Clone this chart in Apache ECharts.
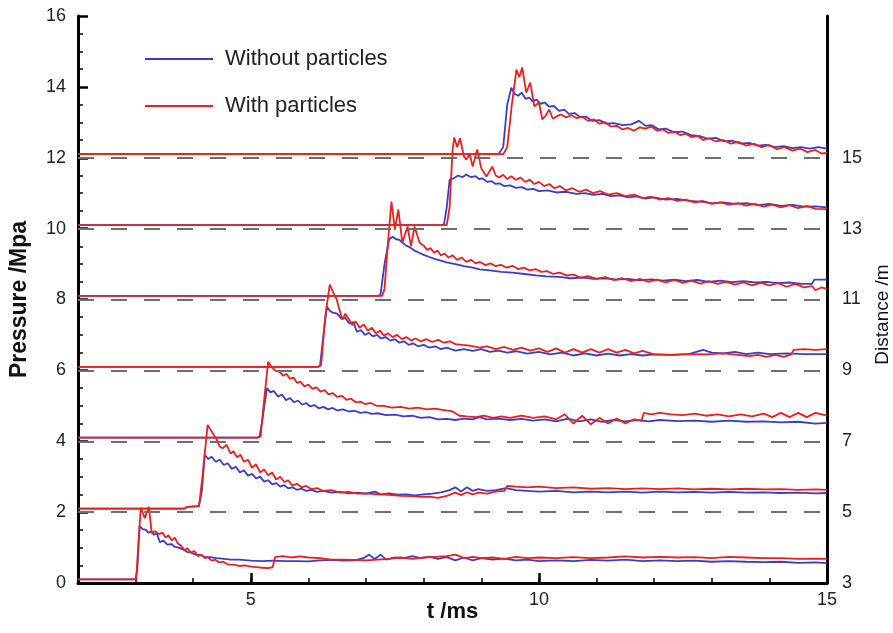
<!DOCTYPE html>
<html><head><meta charset="utf-8">
<script src="https://cdn.jsdelivr.net/npm/echarts@6/dist/echarts.min.js"></script>
<style>html,body{margin:0;padding:0;background:#fff}#c{width:893px;height:633px}</style>
</head><body><div id="c"></div>
<script>
// x tick labels shown, dashed reference levels, right axis labels
const xLabels = [5, 10, 15];
const dashLevels = [2, 4, 6, 8, 10, 12];
const distanceLabels = [3, 5, 7, 9, 11, 13, 15];
const seriesNames = ['Without particles', 'With particles'];

// Sensor at 3 m
const without3 = [[2,0.1],[3.0,0.1],[3.03,0.4],[3.07,1.61],[3.12,1.52],[3.18,1.5],[3.22,1.42],[3.27,1.45],[3.32,1.36],[3.37,1.4],[3.42,1.15],[3.48,1.2],[3.55,1.08],[3.62,1.1],[3.68,1.02],[3.75,1.0],[3.82,0.95],[3.89,0.88],[3.96,0.86],[4.04,0.8],[4.12,0.79],[4.2,0.74],[4.3,0.73],[4.4,0.7],[4.5,0.69],[4.65,0.66],[4.8,0.66],[5.0,0.63],[5.2,0.62],[5.4,0.63],[5.6,0.62],[5.8,0.62],[6.0,0.61],[6.2,0.64],[6.4,0.65],[6.6,0.63],[6.8,0.64],[6.95,0.7],[7.05,0.8],[7.15,0.68],[7.25,0.8],[7.35,0.66],[7.5,0.72],[7.65,0.7],[7.8,0.76],[7.95,0.7],[8.1,0.74],[8.25,0.68],[8.4,0.73],[8.55,0.64],[8.7,0.72],[8.85,0.64],[9.0,0.7],[9.2,0.66],[9.4,0.69],[9.6,0.64],[9.8,0.66],[10.0,0.62],[10.3,0.64],[10.6,0.62],[10.9,0.65],[11.2,0.63],[11.5,0.66],[11.8,0.62],[12.1,0.64],[12.4,0.62],[12.7,0.63],[13.0,0.6],[13.3,0.62],[13.6,0.6],[13.9,0.59],[14.2,0.6],[14.5,0.57],[14.8,0.58],[15,0.56]];
const with3 = [[2,0.1],[3.01,0.1],[3.05,1.2],[3.09,2.12],[3.16,1.83],[3.23,2.15],[3.28,1.41],[3.34,1.46],[3.4,1.38],[3.47,1.42],[3.52,1.28],[3.57,1.35],[3.63,1.2],[3.68,1.28],[3.73,1.12],[3.79,1.05],[3.85,0.92],[3.9,0.98],[3.96,0.86],[4.02,0.9],[4.08,0.76],[4.14,0.8],[4.2,0.7],[4.26,0.72],[4.32,0.63],[4.38,0.66],[4.45,0.58],[4.52,0.6],[4.6,0.52],[4.7,0.52],[4.8,0.48],[4.9,0.5],[5.0,0.46],[5.1,0.45],[5.2,0.43],[5.3,0.42],[5.38,0.45],[5.42,0.73],[5.55,0.76],[5.7,0.72],[5.85,0.75],[6.0,0.72],[6.2,0.7],[6.4,0.66],[6.6,0.66],[6.8,0.65],[7.0,0.64],[7.2,0.66],[7.4,0.68],[7.6,0.72],[7.8,0.68],[8.0,0.72],[8.2,0.74],[8.4,0.76],[8.55,0.8],[8.7,0.7],[8.85,0.74],[9.0,0.7],[9.2,0.72],[9.4,0.68],[9.6,0.74],[9.8,0.7],[10.0,0.72],[10.3,0.7],[10.6,0.73],[10.9,0.7],[11.2,0.72],[11.5,0.75],[11.8,0.72],[12.1,0.74],[12.4,0.72],[12.7,0.73],[13.0,0.7],[13.3,0.74],[13.6,0.72],[13.9,0.7],[14.2,0.7],[14.5,0.68],[14.8,0.69],[15,0.68]];

// Sensor at 5 m
const without5 = [[2,2.1],[3.85,2.1],[3.9,2.15],[4.1,2.17],[4.15,2.6],[4.2,3.62],[4.26,3.5],[4.32,3.56],[4.39,3.42],[4.46,3.48],[4.53,3.33],[4.6,3.38],[4.67,3.22],[4.74,3.28],[4.81,3.12],[4.88,3.18],[4.95,3.03],[5.02,3.08],[5.09,2.95],[5.16,3.0],[5.23,2.86],[5.3,2.9],[5.37,2.78],[5.44,2.82],[5.51,2.72],[5.58,2.76],[5.65,2.67],[5.72,2.7],[5.8,2.63],[5.88,2.66],[5.96,2.6],[6.05,2.63],[6.15,2.57],[6.25,2.6],[6.4,2.55],[6.55,2.57],[6.7,2.53],[6.85,2.55],[7.0,2.52],[7.15,2.58],[7.25,2.5],[7.4,2.53],[7.55,2.49],[7.7,2.5],[7.85,2.47],[8.0,2.5],[8.15,2.52],[8.3,2.56],[8.45,2.62],[8.55,2.7],[8.65,2.58],[8.75,2.7],[8.85,2.6],[8.95,2.65],[9.1,2.6],[9.25,2.62],[9.43,2.68],[9.6,2.62],[9.8,2.6],[10.0,2.58],[10.3,2.6],[10.6,2.56],[10.9,2.58],[11.2,2.56],[11.5,2.58],[11.8,2.55],[12.1,2.58],[12.4,2.56],[12.7,2.57],[13.0,2.55],[13.3,2.57],[13.6,2.55],[13.9,2.56],[14.2,2.54],[14.5,2.55],[14.8,2.53],[15,2.54]];
const with5 = [[2,2.1],[3.85,2.1],[3.9,2.15],[4.1,2.17],[4.16,3.0],[4.25,4.46],[4.33,4.25],[4.41,4.04],[4.46,3.85],[4.51,3.8],[4.58,3.9],[4.65,3.65],[4.7,3.72],[4.76,3.55],[4.82,3.62],[4.88,3.42],[4.95,3.48],[5.02,3.25],[5.09,3.35],[5.16,3.12],[5.23,3.2],[5.3,3.04],[5.37,3.12],[5.44,2.92],[5.51,3.0],[5.58,2.85],[5.65,2.9],[5.72,2.75],[5.8,2.8],[5.88,2.7],[5.96,2.74],[6.05,2.65],[6.15,2.68],[6.25,2.6],[6.4,2.62],[6.55,2.55],[6.7,2.57],[6.85,2.52],[7.0,2.53],[7.2,2.5],[7.4,2.49],[7.6,2.46],[7.8,2.45],[7.95,2.43],[8.1,2.44],[8.25,2.4],[8.4,2.46],[8.55,2.55],[8.65,2.48],[8.75,2.56],[8.85,2.5],[8.95,2.55],[9.1,2.52],[9.25,2.58],[9.4,2.6],[9.45,2.74],[9.6,2.72],[9.8,2.7],[10.0,2.72],[10.3,2.68],[10.6,2.7],[10.9,2.66],[11.2,2.68],[11.5,2.65],[11.8,2.67],[12.1,2.65],[12.4,2.67],[12.7,2.64],[13.0,2.66],[13.3,2.64],[13.6,2.66],[13.9,2.64],[14.2,2.65],[14.5,2.63],[14.8,2.64],[15,2.63]];

// Sensor at 7 m
const without7 = [[2,4.1],[5.1,4.1],[5.15,4.12],[5.2,4.6],[5.28,5.5],[5.34,5.38],[5.4,5.42],[5.47,5.26],[5.54,5.32],[5.61,5.16],[5.68,5.22],[5.75,5.1],[5.82,5.15],[5.89,5.03],[5.96,5.08],[6.03,4.98],[6.1,5.02],[6.18,4.93],[6.26,4.97],[6.34,4.9],[6.42,4.94],[6.5,4.87],[6.6,4.9],[6.7,4.84],[6.8,4.86],[6.9,4.8],[7.0,4.82],[7.1,4.77],[7.2,4.79],[7.35,4.74],[7.5,4.75],[7.65,4.7],[7.8,4.72],[7.95,4.66],[8.1,4.68],[8.25,4.62],[8.4,4.63],[8.55,4.6],[8.7,4.64],[8.85,4.62],[8.97,4.68],[9.1,4.62],[9.3,4.64],[9.5,4.6],[9.7,4.63],[9.9,4.58],[10.1,4.62],[10.3,4.56],[10.5,4.64],[10.7,4.56],[10.9,4.62],[11.1,4.55],[11.3,4.6],[11.5,4.56],[11.7,4.6],[11.9,4.56],[12.1,4.6],[12.4,4.57],[12.7,4.58],[13.0,4.55],[13.3,4.58],[13.6,4.55],[13.9,4.56],[14.2,4.53],[14.5,4.55],[14.8,4.5],[15,4.52]];
const with7 = [[2,4.1],[5.12,4.1],[5.17,4.14],[5.22,5.0],[5.3,6.24],[5.36,6.1],[5.42,6.0],[5.5,5.96],[5.56,5.85],[5.62,5.9],[5.68,5.76],[5.74,5.8],[5.8,5.65],[5.86,5.68],[5.93,5.55],[6.0,5.6],[6.07,5.48],[6.14,5.52],[6.21,5.4],[6.28,5.44],[6.35,5.32],[6.42,5.36],[6.5,5.25],[6.58,5.28],[6.66,5.17],[6.74,5.2],[6.82,5.1],[6.9,5.12],[6.98,5.05],[7.08,5.08],[7.18,5.0],[7.3,5.0],[7.45,4.95],[7.6,4.97],[7.75,4.92],[7.9,4.95],[8.05,4.9],[8.2,4.92],[8.35,4.88],[8.5,4.84],[8.62,4.72],[8.75,4.7],[8.9,4.68],[9.05,4.72],[9.2,4.66],[9.35,4.7],[9.5,4.66],[9.7,4.72],[9.9,4.66],[10.1,4.7],[10.3,4.62],[10.45,4.76],[10.6,4.5],[10.75,4.72],[10.9,4.48],[11.05,4.66],[11.2,4.5],[11.35,4.64],[11.5,4.5],[11.65,4.62],[11.78,4.58],[11.82,4.8],[11.95,4.76],[12.1,4.8],[12.3,4.76],[12.5,4.74],[12.7,4.78],[12.9,4.72],[13.1,4.76],[13.3,4.7],[13.5,4.76],[13.7,4.7],[13.9,4.78],[14.05,4.68],[14.2,4.8],[14.35,4.68],[14.5,4.8],[14.65,4.68],[14.8,4.8],[15,4.72]];

// Sensor at 9 m
const without9 = [[2,6.1],[6.15,6.1],[6.2,6.12],[6.26,7.0],[6.32,7.8],[6.37,7.68],[6.42,7.63],[6.5,7.6],[6.57,7.46],[6.64,7.48],[6.71,7.32],[6.78,7.36],[6.84,7.09],[6.91,7.14],[6.98,7.0],[7.05,7.06],[7.12,6.96],[7.19,7.0],[7.26,6.9],[7.34,6.94],[7.42,6.84],[7.5,6.88],[7.58,6.78],[7.66,6.82],[7.74,6.72],[7.82,6.76],[7.9,6.68],[8.0,6.72],[8.1,6.64],[8.2,6.68],[8.3,6.6],[8.4,6.64],[8.55,6.56],[8.7,6.6],[8.85,6.55],[9.0,6.6],[9.15,6.52],[9.3,6.56],[9.45,6.5],[9.6,6.54],[9.8,6.47],[10.0,6.52],[10.2,6.45],[10.4,6.5],[10.6,6.42],[10.8,6.48],[11.0,6.42],[11.2,6.47],[11.4,6.42],[11.6,6.46],[11.8,6.42],[12.0,6.45],[12.3,6.44],[12.6,6.46],[12.85,6.58],[13.0,6.5],[13.2,6.48],[13.4,6.52],[13.6,6.46],[13.8,6.5],[14.0,6.46],[14.3,6.48],[14.6,6.46],[15,6.46]];
const with9 = [[2,6.1],[6.17,6.1],[6.22,6.15],[6.29,7.5],[6.37,8.42],[6.43,8.2],[6.49,8.0],[6.54,7.7],[6.59,7.43],[6.64,7.6],[6.7,7.45],[6.76,7.28],[6.82,7.38],[6.89,7.2],[6.96,7.3],[7.03,7.12],[7.1,7.2],[7.17,7.05],[7.24,7.12],[7.31,6.98],[7.38,7.05],[7.46,6.94],[7.54,7.0],[7.62,6.88],[7.7,6.94],[7.78,6.84],[7.86,6.9],[7.95,6.82],[8.05,6.88],[8.15,6.8],[8.25,6.86],[8.35,6.78],[8.45,6.82],[8.55,6.74],[8.67,6.72],[8.8,6.7],[8.97,6.64],[9.1,6.68],[9.25,6.6],[9.4,6.66],[9.55,6.58],[9.7,6.64],[9.85,6.56],[10.0,6.62],[10.15,6.52],[10.3,6.62],[10.45,6.5],[10.6,6.6],[10.75,6.5],[10.9,6.6],[11.05,6.5],[11.2,6.6],[11.35,6.5],[11.5,6.58],[11.65,6.48],[11.8,6.55],[12.0,6.45],[12.3,6.44],[12.6,6.46],[12.9,6.45],[13.2,6.48],[13.45,6.44],[13.65,6.4],[13.8,6.44],[13.95,6.38],[14.1,6.44],[14.25,6.38],[14.38,6.45],[14.42,6.58],[14.6,6.6],[14.8,6.58],[15,6.6]];

// Sensor at 11 m
const without11 = [[2,8.1],[7.2,8.1],[7.25,8.13],[7.32,9.0],[7.4,9.7],[7.46,9.77],[7.52,9.7],[7.58,9.68],[7.63,9.6],[7.7,9.52],[7.77,9.46],[7.84,9.38],[7.92,9.32],[8.0,9.26],[8.1,9.2],[8.2,9.14],[8.3,9.1],[8.4,9.05],[8.55,9.0],[8.7,8.94],[8.85,8.9],[8.97,8.85],[9.15,8.82],[9.35,8.78],[9.54,8.76],[9.75,8.72],[9.95,8.68],[10.13,8.65],[10.35,8.64],[10.55,8.6],[10.75,8.62],[10.95,8.58],[11.15,8.6],[11.35,8.56],[11.55,8.58],[11.75,8.54],[11.95,8.57],[12.15,8.53],[12.35,8.56],[12.55,8.52],[12.75,8.55],[12.95,8.5],[13.15,8.53],[13.35,8.49],[13.55,8.52],[13.75,8.48],[13.95,8.5],[14.15,8.46],[14.35,8.48],[14.55,8.44],[14.74,8.44],[14.78,8.56],[15,8.56]];
const with11 = [[2,8.1],[7.28,8.1],[7.32,8.3],[7.38,9.6],[7.44,10.76],[7.5,9.97],[7.56,10.54],[7.63,9.6],[7.72,10.06],[7.78,9.5],[7.84,10.06],[7.93,9.6],[8.0,9.52],[8.06,9.4],[8.12,9.45],[8.18,9.32],[8.24,9.38],[8.3,9.24],[8.36,9.3],[8.43,9.18],[8.5,9.25],[8.58,9.12],[8.66,9.18],[8.74,9.06],[8.82,9.12],[8.9,9.02],[8.98,9.06],[9.07,8.97],[9.16,9.02],[9.25,8.94],[9.34,8.98],[9.44,8.9],[9.54,8.95],[9.64,8.86],[9.74,8.9],[9.84,8.82],[9.94,8.86],[10.04,8.78],[10.14,8.8],[10.25,8.72],[10.36,8.76],[10.48,8.68],[10.6,8.7],[10.72,8.62],[10.85,8.66],[11.0,8.58],[11.15,8.63],[11.3,8.55],[11.45,8.6],[11.6,8.52],[11.75,8.58],[11.9,8.5],[12.05,8.56],[12.2,8.48],[12.35,8.55],[12.5,8.47],[12.65,8.53],[12.8,8.45],[12.95,8.52],[13.1,8.44],[13.25,8.5],[13.4,8.42],[13.55,8.48],[13.7,8.4],[13.85,8.47],[14.0,8.4],[14.15,8.46],[14.3,8.36],[14.45,8.44],[14.6,8.34],[14.74,8.38],[14.8,8.26],[14.9,8.34],[15,8.3]];

// Sensor at 13 m
const without13 = [[2,10.1],[8.35,10.1],[8.4,10.6],[8.45,11.38],[8.52,11.42],[8.6,11.5],[8.67,11.45],[8.74,11.53],[8.82,11.45],[8.9,11.48],[8.96,11.4],[9.02,11.42],[9.1,11.32],[9.18,11.34],[9.25,11.26],[9.31,11.28],[9.4,11.2],[9.5,11.22],[9.6,11.15],[9.7,11.17],[9.8,11.1],[9.9,11.12],[10.0,11.06],[10.15,11.08],[10.3,11.02],[10.47,11.04],[10.65,10.98],[10.8,11.0],[10.95,10.95],[11.1,10.98],[11.25,10.92],[11.4,10.94],[11.55,10.88],[11.7,10.91],[11.85,10.85],[12.0,10.88],[12.2,10.82],[12.4,10.84],[12.6,10.78],[12.8,10.76],[13.0,10.72],[13.2,10.74],[13.4,10.7],[13.6,10.72],[13.8,10.66],[14.0,10.7],[14.2,10.64],[14.4,10.67],[14.6,10.62],[14.8,10.63],[15,10.6]];
const with13 = [[2,10.1],[8.4,10.1],[8.45,10.6],[8.5,12.2],[8.53,12.57],[8.58,12.3],[8.63,12.55],[8.7,12.03],[8.74,11.95],[8.8,12.1],[8.85,11.75],[8.93,12.23],[9.0,11.7],[9.09,11.47],[9.19,11.75],[9.25,11.5],[9.31,11.44],[9.38,11.52],[9.45,11.4],[9.52,11.48],[9.6,11.38],[9.68,11.44],[9.76,11.32],[9.84,11.38],[9.92,11.26],[10.0,11.32],[10.09,11.2],[10.18,11.26],[10.27,11.14],[10.36,11.2],[10.47,11.08],[10.58,11.14],[10.7,11.04],[10.82,11.1],[10.94,11.0],[11.06,11.06],[11.2,10.96],[11.35,11.0],[11.5,10.92],[11.65,10.96],[11.8,10.86],[11.95,10.9],[12.1,10.82],[12.25,10.86],[12.4,10.78],[12.55,10.82],[12.7,10.74],[12.85,10.78],[13.0,10.7],[13.15,10.74],[13.3,10.68],[13.45,10.72],[13.6,10.65],[13.75,10.7],[13.9,10.62],[14.05,10.68],[14.2,10.6],[14.35,10.66],[14.5,10.58],[14.65,10.64],[14.8,10.56],[15,10.55]];

// Sensor at 15 m
const without15 = [[2,12.1],[9.3,12.1],[9.38,12.3],[9.45,13.5],[9.52,13.98],[9.58,13.8],[9.64,13.75],[9.7,13.84],[9.77,13.66],[9.83,13.7],[9.89,13.59],[9.96,13.64],[10.03,13.52],[10.1,13.56],[10.18,13.44],[10.26,13.46],[10.35,13.32],[10.44,13.36],[10.52,13.24],[10.62,13.26],[10.72,13.14],[10.82,13.16],[10.93,13.04],[11.05,13.06],[11.18,12.96],[11.3,12.98],[11.45,12.92],[11.6,12.94],[11.74,13.04],[11.85,12.9],[11.95,12.92],[12.08,12.8],[12.2,12.82],[12.35,12.72],[12.49,12.74],[12.64,12.64],[12.78,12.62],[12.92,12.54],[13.07,12.56],[13.22,12.46],[13.36,12.48],[13.5,12.4],[13.65,12.42],[13.8,12.34],[13.94,12.36],[14.1,12.3],[14.25,12.33],[14.4,12.27],[14.55,12.3],[14.7,12.26],[14.85,12.3],[15,12.26]];
const with15 = [[2,12.1],[9.38,12.1],[9.45,12.3],[9.53,13.5],[9.61,14.49],[9.66,14.27],[9.71,14.55],[9.78,13.84],[9.85,14.12],[9.92,13.45],[10.0,13.56],[10.06,13.08],[10.12,13.2],[10.18,13.36],[10.24,13.1],[10.3,13.16],[10.38,13.22],[10.47,13.14],[10.56,13.2],[10.65,13.12],[10.75,13.16],[10.85,13.04],[10.95,13.08],[11.05,12.96],[11.15,13.0],[11.25,12.88],[11.35,12.9],[11.45,12.8],[11.55,12.84],[11.65,12.76],[11.75,12.86],[11.85,12.82],[11.95,12.88],[12.05,12.76],[12.15,12.8],[12.25,12.7],[12.35,12.74],[12.45,12.64],[12.55,12.68],[12.65,12.58],[12.75,12.62],[12.85,12.5],[12.95,12.55],[13.07,12.46],[13.2,12.5],[13.33,12.4],[13.46,12.45],[13.6,12.34],[13.73,12.4],[13.86,12.3],[14.0,12.36],[14.13,12.24],[14.26,12.3],[14.4,12.2],[14.53,12.26],[14.66,12.16],[14.8,12.22],[14.9,12.12],[15,12.14]];

const withoutAll = [without3, without5, without7, without9, without11, without13, without15];
const withAll = [with3, with5, with7, with9, with11, with13, with15];

const BLUE = '#3a3ec4';
const RED = '#e8211f';
const FONT = '"Liberation Sans", Arial, sans-serif';

const chart = echarts.init(document.getElementById('c'), null, { renderer: 'canvas' });

const series = [];
series.push({
  type: 'line', name: 'dash', data: [], silent: true, z: 1,
  markLine: {
    silent: true, symbol: ['none', 'none'], label: { show: false },
    lineStyle: { color: '#6e6e6e', width: 2, type: [16, 17] },
    data: dashLevels.map(v => ({ yAxis: v })),
    animation: false
  }
});
withoutAll.forEach(d => series.push({
  type: 'line', name: seriesNames[0], data: d, symbol: 'none', showSymbol: false, z: 2,
  lineStyle: { color: BLUE, width: 1.8 }, itemStyle: { color: BLUE }
}));
withAll.forEach(d => series.push({
  type: 'line', name: seriesNames[1], data: d, symbol: 'none', showSymbol: false, z: 3,
  lineStyle: { color: RED, width: 1.8 }, itemStyle: { color: RED }
}));

chart.setOption({
  animation: false,
  backgroundColor: '#fff',
  textStyle: { fontFamily: FONT },
  grid: { left: 78, right: 66, top: 16, bottom: 50, containLabel: false, outerBoundsMode: 'none' },
  legend: {
    data: seriesNames, orient: 'vertical', left: 140, top: 43,
    icon: 'rect', itemWidth: 68, itemHeight: 2, itemGap: 25,
    textStyle: { fontSize: 22, color: '#222', fontFamily: FONT, padding: [0, 0, 0, 7] }
  },
  xAxis: [{
    type: 'value', min: 2, max: 15, interval: 1,
    name: 't /ms', nameLocation: 'middle', nameGap: 18, nameMoveOverlap: false,
    nameTextStyle: { fontSize: 22, fontWeight: 'bold', color: '#111', fontFamily: FONT },
    axisLine: { show: true, lineStyle: { color: '#000', width: 3 } },
    axisTick: { show: true, inside: true, length: 5, lineStyle: { color: '#000', width: 1.5 } },
    axisLabel: { fontSize: 18, color: '#222', margin: 8, fontFamily: FONT,
      formatter: v => xLabels.includes(v) ? String(v) : '' },
    splitLine: { show: false }
  }, {
    type: 'value', min: 2, max: 15, position: 'bottom',
    axisLine: { show: false },
    axisTick: { show: true, inside: true, length: 10, customValues: xLabels, lineStyle: { color: '#000', width: 2.5 } },
    axisLabel: { show: false },
    splitLine: { show: false }
  }],
  yAxis: [{
    type: 'value', min: 0, max: 16, interval: 2,
    name: 'Pressure /Mpa', nameLocation: 'middle', nameGap: 47,
    nameTextStyle: { fontSize: 23, fontWeight: 'bold', color: '#111', fontFamily: FONT },
    axisLine: { show: true, lineStyle: { color: '#000', width: 3 } },
    axisTick: { show: true, inside: true, length: 10, lineStyle: { color: '#000', width: 2.5 } },
    minorTick: { show: true, splitNumber: 4, length: 5, lineStyle: { color: '#000', width: 1.5 } },
    axisLabel: { fontSize: 18, color: '#222', margin: 12, fontFamily: FONT },
    splitLine: { show: false }, minorSplitLine: { show: false }
  }, {
    type: 'value', min: 3, max: 19, interval: 2, position: 'right',
    name: 'Distance /m', nameLocation: 'middle', nameGap: 46, nameRotate: 90,
    nameTextStyle: { fontSize: 19, color: '#111', fontFamily: FONT, padding: [0, 30, 0, 0] },
    axisLine: { show: true, lineStyle: { color: '#000', width: 3 } },
    axisTick: { show: false },
    axisLabel: { fontSize: 18, color: '#222', margin: 15, fontFamily: FONT,
      formatter: v => distanceLabels.includes(v) ? String(v) : '' },
    splitLine: { show: false }
  }],
  series: series
});
</script></body></html>
